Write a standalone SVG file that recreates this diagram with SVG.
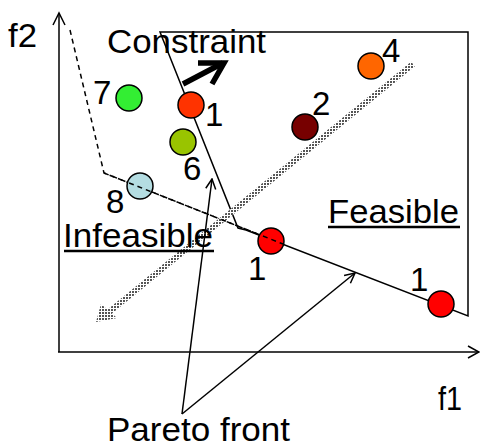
<svg xmlns="http://www.w3.org/2000/svg" width="480" height="445" viewBox="0 0 480 445">
<style>
text{font-family:"Liberation Sans",Arial,sans-serif;font-size:33px;fill:#000}
.pt{stroke:#000;stroke-width:1.5}
.ln{fill:none;stroke:#000;stroke-width:1.5}
.ul{stroke:#000;stroke-width:2.5}
</style>
<defs>
<pattern id="hatch" patternUnits="userSpaceOnUse" width="3" height="3">
<rect width="3" height="3" fill="#fff"/>
<rect width="2" height="2" fill="#555"/>
</pattern>
<marker id="open" viewBox="0 0 12 12" refX="11" refY="6" markerWidth="12" markerHeight="12" markerUnits="userSpaceOnUse" orient="auto">
<path d="M1,1 L11,6 L1,11" fill="none" stroke="#000" stroke-width="1.5"/>
</marker>
</defs>
<g id="axes">
<line class="ln" x1="59" y1="352" x2="59" y2="13"/>
<path class="ln" d="M53,25 L59,13 L65,25"/>
<line class="ln" x1="58" y1="352" x2="479" y2="352"/>
<path class="ln" d="M468,346 L479,352 L468,358"/>
<text x="8" y="47" textLength="29" lengthAdjust="spacingAndGlyphs">f2</text>
<text x="438" y="410" textLength="24" lengthAdjust="spacingAndGlyphs">f1</text>
</g>
<g id="connectors">
<polygon class="ln" points="160,32 468,32 468,316 246,230 238,228"/>
<polyline class="ln" points="70,30 104,173 283,244" stroke-dasharray="5,4"/>
<line x1="413" y1="64" x2="103" y2="317" stroke="url(#hatch)" stroke-width="6"/>
<polygon points="96,322 101,304 117,318" fill="url(#hatch)"/>
<path d="M183,84 L223,63" fill="none" stroke="#000" stroke-width="5.5"/>
<path d="M198,63 L224,63 L212,84" fill="none" stroke="#000" stroke-width="5.5" stroke-linejoin="miter"/>
<line class="ln" x1="182" y1="414" x2="212" y2="179" marker-end="url(#open)"/>
<line class="ln" x1="182" y1="414" x2="355" y2="273" marker-end="url(#open)"/>
</g>
<g id="node7"><circle class="pt" cx="129" cy="98" r="13" fill="#33ee33"/><text x="93" y="104">7</text></g>
<g id="node1a"><circle class="pt" cx="191" cy="105" r="13" fill="#ff3300"/><text x="205" y="126">1</text></g>
<g id="node6"><circle class="pt" cx="183" cy="142" r="13" fill="#99c400"/><text x="183" y="180">6</text></g>
<g id="node8"><circle class="pt" cx="140" cy="186" r="13" fill="#b4dde2"/><text x="106" y="213">8</text></g>
<g id="node2"><circle class="pt" cx="305" cy="127" r="13" fill="#770000"/><text x="312" y="115">2</text></g>
<g id="node4"><circle class="pt" cx="371" cy="66" r="13" fill="#ff6600"/><text x="382" y="62">4</text></g>
<g id="node1b"><circle class="pt" cx="271" cy="241" r="13" fill="#ff0000"/><text x="248" y="280">1</text></g>
<g id="node1c"><circle class="pt" cx="441" cy="304" r="13" fill="#ff0000"/><text x="410" y="291">1</text></g>
<polyline class="ln" points="104,173 283,244" stroke-dasharray="5,4"/>
<g id="labels">
<text x="107" y="53" textLength="159" lengthAdjust="spacingAndGlyphs">Constraint</text>
<text x="63" y="247" textLength="150" lengthAdjust="spacingAndGlyphs">Infeasible</text>
<line class="ul" x1="64" y1="251" x2="214" y2="251"/>
<text x="328" y="223" textLength="131" lengthAdjust="spacingAndGlyphs">Feasible</text>
<line class="ul" x1="328" y1="227" x2="460" y2="227"/>
<text x="107" y="441" textLength="183" lengthAdjust="spacingAndGlyphs">Pareto front</text>
</g>
</svg>
